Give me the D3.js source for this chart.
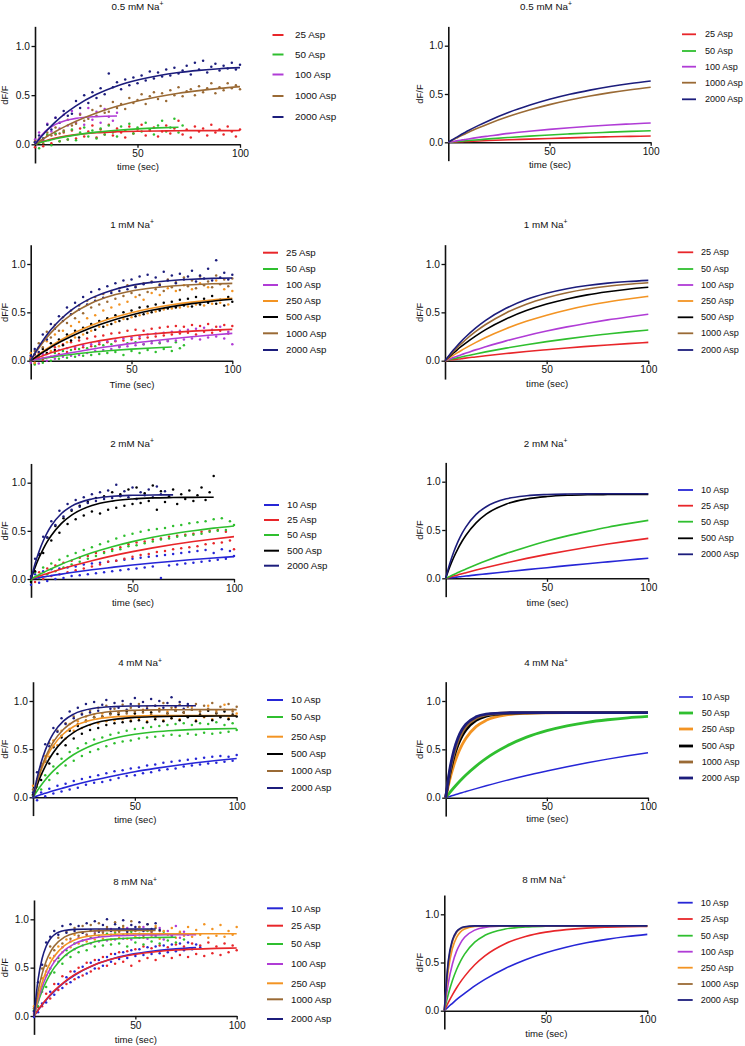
<!DOCTYPE html>
<html><head><meta charset="utf-8">
<script src="https://cdn.jsdelivr.net/npm/d3@7"></script>
<style>
body{margin:0;background:#fff}
svg{display:block}
text{font-family:"Liberation Sans",Arial,Helvetica,sans-serif;fill:#111}
</style>
</head><body>
<svg id="c" width="745" height="1046"></svg>
<script>
// ---------- shared time grids ----------
const scatT = [0,2,4,6,8,10,12,14,16,18,20,22,24,26,28,30,32,34,36,38,40,42,44,46,48,50,52,54,56,58,60,62,64,66,68,70,72,74,76,78,80,82,84,86,88,90,92,94,96,98,100];
const fitT = [0,2,4,6,8,10,15,20,30,40,50,60,70,80,90,100];
const yTicks = [0,0.5,1];
const xTicks = [50,100];

// ---------- 0.5 mM Na+ ----------
const legend05 = ["25 Asp","50 Asp","100 Asp","1000 Asp","2000 Asp"];
const dot_05_25 = [-.03,.05,-.02,.09,.01,.10,.03,.12,.05,.14,.06,.16,.08,.13,.19,.07,.15,.10,.20,.09,.16,.12,.07,.18,.11,.15,.20,.09,.14,.17,.08,.13,.19,.11,.16,.24,.10,.15,.07,.18,.13,.16,.09,.20,.12,.15,.10,.18,.13,.08,.15];
const dot_05_50 = [.02,-.04,.06,.10,-.01,.11,.03,.13,.05,.15,.04,.12,.17,.08,.14,.06,.16,.10,.19,.12,.08,.18,.14,.21,.11,.17,.13,.22,.15,.10,.19,.24,.13,.17,.26,.12,.19];
const dot_05_100 = [.05,.12,.04,.21,.13,.27,.16,.30,.19,.34,.22,.31,.20,.37,.25,.33,.22,.36,.28,.24,.32];
const dot_05_1000 = [.03,.06,.01,.12,.09,.17,.11,.14,.25,.19,.21,.30,.24,.26,.35,.29,.39,.32,.33,.43,.37,.41,.36,.47,.42,.45,.51,.41,.49,.53,.46,.52,.44,.55,.50,.58,.49,.54,.56,.50,.59,.53,.57,.62,.52,.58,.55,.62,.57,.60,.56];
const dot_05_2000 = [.02,.09,.06,.20,.15,.27,.22,.34,.29,.31,.44,.37,.50,.42,.53,.47,.57,.51,.72,.58,.63,.56,.66,.60,.68,.62,.70,.65,.74,.67,.73,.69,.76,.70,.78,.72,.75,.80,.71,.83,.76,.85,.73,.79,.82,.75,.80,.77,.83,.76,.81];
const fit_05_25 = [0,.016,.030,.042,.053,.063,.083,.098,.117,.127,.133,.136,.138,.139,.139,.140];
const fit_05_50 = [0,.013,.025,.036,.046,.056,.078,.096,.124,.143,.157,.167,.174];
const fit_05_100 = [0,.062,.110,.149,.179,.203,.242,.264,.282,.288];
const fit_05_1000 = [0,.028,.055,.082,.106,.130,.185,.235,.319,.386,.440,.484,.519,.546,.569,.587];
const fit_05_2000 = [0,.052,.100,.146,.188,.228,.316,.391,.509,.594,.654,.698,.730,.752,.769,.780];
const mod_05_25 = [0,.002,.004,.006,.008,.010,.014,.018,.026,.033,.040,.046,.052,.057,.061,.065];
const mod_05_50 = [0,.004,.008,.011,.015,.019,.027,.035,.050,.064,.076,.087,.097,.105,.113,.120];
const mod_05_100 = [0,.007,.015,.022,.028,.035,.051,.065,.092,.114,.134,.151,.166,.179,.190,.200];
const mod_05_1000 = [0,.022,.043,.064,.084,.104,.150,.193,.269,.334,.390,.438,.479,.514,.544,.570];
const mod_05_2000 = [0,.026,.051,.076,.099,.122,.175,.224,.311,.383,.445,.497,.540,.577,.608,.634];

// ---------- 1 mM Na+ ----------
const legend1 = ["25 Asp","50 Asp","100 Asp","250 Asp","500 Asp","1000 Asp","2000 Asp"];
const dot_1_25 = [.03,-.03,.08,.01,.11,.04,.14,.07,.17,.09,.19,.12,.21,.14,.23,.15,.25,.17,.26,.19,.28,.20,.29,.21,.31,.22,.32,.23,.31,.24,.33,.25,.34,.26,.35,.27,.36,.28,.35,.29,.37,.27,.36,.30,.38,.29,.35,.31,.37,.28,.36];
const dot_1_50 = [.01,-.04,.05,-.02,.07,.00,.08,.02,.10,.03,.11,.04,.12,.05,.13,.06,.15,.07,.16,.08,.17,.09,.15,.06,.18,.10,.19,.08,.17,.11,.20,.09,.18,.12,.21,.10,.19,.13,.16];
const dot_1_100 = [-.02,.06,-.03,.07,.00,.09,.02,.11,.04,.13,.05,.14,.06,.16,.08,.17,.10,.19,.11,.20,.12,.21,.14,.23,.15,.24,.16,.25,.17,.27,.18,.28,.19,.29,.20,.30,.21,.31,.22,.32,.23,.33,.22,.34,.24,.32,.25,.35,.23,.30,.17];
const dot_1_250 = [.08,-.02,.14,.03,.20,.10,.27,.15,.31,.19,.36,.24,.40,.27,.44,.31,.47,.35,.52,.37,.55,.40,.58,.43,.61,.45,.66,.47,.63,.49,.70,.51,.68,.53,.75,.54,.72,.55,.78,.56,.74,.58,.80,.57,.76,.59,.83,.60,.74,.58,.72];
const dot_1_500 = [.01,.07,.02,.12,.08,.18,.11,.22,.16,.27,.21,.31,.24,.34,.29,.38,.32,.41,.35,.44,.38,.47,.41,.50,.43,.52,.46,.55,.48,.56,.50,.58,.52,.60,.54,.61,.55,.63,.57,.64,.56,.66,.58,.64,.60,.67,.59,.63,.57,.66,.61];
const dot_1_1000 = [.02,.10,.18,.14,.30,.24,.37,.31,.45,.39,.52,.44,.57,.49,.62,.55,.66,.58,.69,.61,.72,.64,.75,.67,.78,.70,.77,.68,.80,.71,.82,.74,.79,.72,.84,.76,.81,.73,.86,.77,.83,.75,.87,.78,.82,.76,.88,.79,.84,.77,.85];
const dot_1_2000 = [.05,.12,.09,.27,.22,.38,.33,.46,.41,.55,.48,.60,.53,.66,.58,.71,.62,.74,.65,.77,.70,.80,.72,.83,.74,.84,.76,.87,.79,.89,.81,.86,.78,.92,.83,.88,.80,.90,.84,.87,.93,.82,.88,.85,.95,.83,1.04,.86,.91,.84,.89];
const fit_1_25 = [0,.018,.035,.051,.066,.081,.113,.142,.190,.226,.255,.276,.293,.306,.316,.324];
const fit_1_50 = [0,.008,.015,.022,.029,.035,.051,.064,.087,.105,.120,.132,.141];
const fit_1_100 = [0,.009,.018,.027,.036,.044,.064,.083,.119,.150,.179,.204,.227,.248,.266,.283];
const fit_1_250 = [0,.033,.065,.095,.124,.151,.214,.271,.364,.438,.496,.542,.578,.606,.628,.645];
const fit_1_500 = [0,.030,.059,.086,.113,.139,.198,.251,.341,.414,.473,.521,.559,.590,.615,.635];
const fit_1_1000 = [0,.068,.130,.188,.241,.288,.391,.474,.594,.671,.720,.752,.773,.786,.795,.800];
const fit_1_2000 = [0,.076,.145,.208,.266,.319,.431,.520,.647,.727,.779,.810,.830,.843,.851,.856];
const mod_1_25 = [0,.006,.011,.016,.021,.027,.039,.051,.074,.095,.114,.132,.148,.163,.177,.190];
const mod_1_50 = [0,.010,.020,.029,.038,.048,.070,.091,.130,.165,.197,.226,.253,.276,.298,.317];
const mod_1_100 = [0,.016,.032,.047,.062,.076,.112,.144,.205,.259,.307,.350,.388,.422,.452,.480];
const mod_1_250 = [0,.028,.055,.081,.106,.130,.187,.240,.331,.407,.471,.525,.570,.607,.638,.665];
const mod_1_500 = [0,.040,.077,.113,.147,.179,.254,.321,.431,.518,.586,.639,.681,.713,.739,.759];
const mod_1_1000 = [0,.048,.092,.135,.175,.214,.300,.374,.494,.585,.652,.703,.741,.770,.791,.807];
const mod_1_2000 = [0,.055,.107,.155,.200,.243,.337,.417,.542,.633,.697,.744,.778,.802,.819,.831];

// ---------- 2 mM Na+ ----------
const legend2 = ["10 Asp","25 Asp","50 Asp","500 Asp","2000 Asp"];
const dot_2_10 = [-.06,.05,-.04,.08,-.02,.10,.00,.11,.01,.12,.03,.13,.04,.15,.05,.16,.06,.17,.07,.18,.08,.19,.09,.20,.10,.21,.11,.22,.12,.23,.13,.24,.01,.25,.14,.26,.15,.27,.16,.28,.17,.29,.18,.30,.19,.27,.20,.31,.21,.29,.24];
const dot_2_25 = [.02,-.03,.07,.00,.11,.03,.14,.05,.17,.07,.19,.09,.22,.11,.24,.13,.27,.15,.28,.18,.31,.19,.33,.21,.36,.23,.38,.25,.39,.26,.41,.28,.42,.29,.44,.31,.45,.32,.46,.33,.47,.34,.49,.36,.50,.37,.51,.38,.49,.40,.31];
const dot_2_50 = [-.02,.07,.01,.12,.05,.16,.08,.20,.12,.24,.15,.27,.18,.30,.21,.33,.24,.36,.27,.39,.29,.42,.31,.45,.34,.47,.35,.49,.37,.51,.39,.52,.41,.53,.42,.55,.44,.56,.45,.58,.46,.59,.47,.60,.49,.62,.50,.63,.51,.60,.56];
const dot_2_500 = [-.03,.08,.26,.27,.43,.40,.55,.48,.63,.57,.71,.62,.76,.66,.80,.70,.84,.68,.86,.72,.90,.74,.88,.76,.93,.78,.95,.79,.89,.81,.97,.72,.91,.80,.86,.93,.78,.88,.83,.92,.81,.87,.95,.82,.90,1.07];
const dot_2_2000 = [.03,.21,.25,.44,.43,.60,.56,.71,.65,.78,.72,.82,.75,.85,.79,.88,.81,.90,.83,.92,.84,.98,.86,.91,.85,.95,.83,.90,.87,.93,.85,.96,.88,.91];
const fit_2_10 = [0,.007,.015,.022,.028,.035,.051,.067,.096,.121,.145,.166,.185,.202,.218,.232];
const fit_2_25 = [0,.015,.030,.044,.058,.071,.104,.134,.190,.240,.284,.323,.358,.389,.416,.440];
const fit_2_50 = [0,.023,.045,.066,.087,.107,.154,.196,.272,.335,.388,.433,.470,.501,.528,.550];
const fit_2_500 = [0,.120,.223,.311,.388,.452,.578,.664,.763,.809,.831,.842,.846,.848,.849];
const fit_2_2000 = [0,.158,.289,.395,.482,.553,.680,.757,.831,.859,.869,.873,.874];
const mod_2_10 = [0,.005,.009,.014,.019,.023,.035,.046,.068,.090,.110,.131,.151,.170,.189,.208];
const mod_2_25 = [0,.012,.024,.035,.047,.058,.085,.111,.160,.206,.248,.286,.322,.355,.385,.413];
const mod_2_50 = [0,.020,.040,.059,.078,.096,.140,.182,.258,.325,.386,.439,.486,.529,.566,.600];
const mod_2_500 = [0,.117,.218,.305,.381,.446,.574,.664,.770,.821,.846,.859,.865,.867,.868,.869];
const mod_2_2000 = [0,.150,.274,.377,.463,.533,.662,.741,.823,.855,.867,.872,.874,.875,.875,.875];

// ---------- 4 mM Na+ ----------
const legend4 = ["10 Asp","50 Asp","250 Asp","500 Asp","1000 Asp","2000 Asp"];
const dot_4_10 = [.00,-.03,.05,.01,.09,.04,.12,.06,.14,.08,.17,.10,.19,.13,.21,.15,.23,.16,.25,.18,.27,.20,.28,.22,.30,.23,.31,.25,.33,.26,.34,.28,.36,.29,.37,.30,.38,.32,.39,.33,.40,.34,.41,.35,.42,.36,.43,.37,.42,.38,.44];
const dot_4_50 = [.02,.11,.08,.23,.18,.32,.25,.40,.33,.47,.38,.51,.43,.56,.47,.60,.50,.62,.53,.65,.56,.67,.58,.69,.59,.71,.61,.72,.62,.73,.63,.74,.64,.75,.65,.76,.64,.77,.66,.75,.65,.77,.67,.76,.66,.78,.67,.75,.68,.77,.70];
const dot_4_250 = [.12,.19,.24,.43,.42,.59,.54,.69,.61,.76,.69,.79,.72,.84,.75,.86,.77,.87,.79,.89,.80,.88,.81,.90,.80,.87,.82,.91,.79,.88,.83,.92,.80,.89,.82,.93,.81,.88,.84,.94,.80,.89,.83,.95,.81,.90,.84,.96,.82,.91,.87];
const dot_4_500 = [.03,.17,.18,.38,.35,.52,.45,.62,.54,.69,.61,.74,.66,.79,.70,.83,.72,.84,.75,.87,.77,.86,.78,.89,.79,.87,.80,.90,.78,.88,.81,.91,.79,.87,.82,.90,.80,.88,.83,.91,.79,.86,.84,.90,.80,.87,.83,.89,.81,.86,.84];
const dot_4_1000 = [.08,.14,.35,.37,.56,.53,.69,.64,.77,.71,.84,.76,.87,.80,.90,.83,.93,.84,.95,.86,.92,.88,.96,.87,.93,.89,.97,.88,.94,.86,.95,.89,.98,.87,.93,.90,.96,.88,.94,.91,.97,.89,.95,.92,.98,.88,.94,.91,.97,.89,.94];
const dot_4_2000 = [.05,.26,.32,.55,.53,.72,.68,.82,.76,.89,.82,.93,.86,.97,.88,.99,.90,.96,1.01,.92,.98,.93,1.00,.91,.97,1.03,.94,.99,.92,1.02,.95,1.00,.93,.98,1.04,.94,.99,.92,.97];
const fit_4_10 = [0,.014,.028,.042,.055,.068,.098,.127,.179,.224,.265,.300,.331,.358,.382,.403];
const fit_4_50 = [0,.066,.126,.180,.230,.274,.369,.444,.549,.614,.654,.680,.695,.705,.711,.714];
const fit_4_250 = [0,.154,.281,.383,.468,.537,.660,.735,.808,.835,.844,.848,.849,.850,.850,.850];
const fit_4_500 = [0,.125,.232,.322,.400,.466,.591,.674,.768,.810,.830,.838,.842,.843,.844,.844];
const fit_4_1000 = [0,.165,.300,.410,.501,.575,.707,.787,.865,.894,.904,.908,.909,.910,.910,.910];
const fit_4_2000 = [0,.202,.362,.487,.586,.664,.793,.864,.924,.942,.948,.950,.950,.950];
const mod_4_10 = [0,.013,.026,.039,.052,.064,.094,.123,.179,.230,.276,.320,.361,.399,.434,.466];
const mod_4_50 = [0,.053,.103,.150,.194,.235,.327,.407,.532,.626,.693,.743,.780,.806,.826,.840];
const mod_4_250 = [0,.187,.335,.451,.543,.615,.735,.800,.856,.873,.878,.880,.880,.880,.880,.880];
const mod_4_500 = [0,.241,.416,.543,.635,.702,.800,.844,.873,.878,.880,.880,.880,.880,.880,.880];
const mod_4_1000 = [0,.266,.451,.581,.671,.735,.821,.856,.876,.880,.880,.880,.880,.880,.880,.880];
const mod_4_2000 = [0,.290,.485,.615,.702,.761,.836,.864,.878,.880,.880,.880,.880,.880,.880,.880];

// ---------- 8 mM Na+ ----------
const legend8 = ["10 Asp","25 Asp","50 Asp","100 Asp","250 Asp","1000 Asp","2000 Asp"];
const dot_8_10 = [-.01,.04,.13,.14,.25,.22,.33,.29,.40,.35,.46,.40,.51,.44,.55,.49,.58,.52,.61,.56,.64,.59,.66,.60,.68,.62,.69,.63,.71,.64,.72,.65,.73,.66,.74,.67,.75,.68,.76,.69,.74,.71];
const dot_8_25 = [.02,.09,.10,.23,.18,.33,.27,.41,.33,.46,.38,.50,.42,.55,.46,.58,.49,.61,.52,.64,.54,.66,.56,.67,.52,.69,.57,.72,.60,.70,.58,.73,.62,.71,.60,.74,.63,.72,.61,.75,.64,.73,.62,.76,.65,.72,.63,.75,.66,.73,.68];
const dot_8_50 = [.06,.10,.31,.30,.49,.45,.60,.54,.68,.61,.75,.66,.78,.68,.81,.72,.83,.73,.85,.74,.86,.75,.84,.72,.87,.76,.85,.74,.88,.77,.84,.75,.87,.78,.83,.76,.86,.79];
const dot_8_100 = [.03,.21,.25,.46,.44,.62,.56,.71,.63,.77,.69,.81,.73,.84,.75,.87,.77,.88,.78,.90,.79,.88,.80,.91,.79,.89,.81,.92,.80,.87,.82,.91,.79,.88,.83,.93,.81,.87,.84];
const dot_8_250 = [.10,.16,.39,.42,.60,.57,.72,.66,.79,.71,.84,.75,.86,.77,.88,.79,.89,.80,.90,.79,.88,.81,.91,.80,.89,.82,.92,.81,.89,.83,.93,.80,.88,.84,.91,.81,.87,.83,.92,.82,.89,.84,.95,.81,.90,.83,.94,.82,.88,.84,.92];
const dot_8_1000 = [.08,.22,.49,.52,.72,.68,.81,.75,.87,.80,.91,.83,.93,.84,.94,.85,.96,.86,.92,.84,.97,.87,.93,.85,.98,.88,.92,.83,.95,.87,.91,.88];
const dot_8_2000 = [.05,.35,.53,.76,.82,.88,.84,.93,.86,.95,.88,.93,.86,.96,.89,.98,.87,.94,1.00,.88,.95,.91,.99,.87,.94,.92,.97,.88,.95,.90,.96,.89];
const fit_8_10 = [0,.060,.115,.166,.212,.255,.347,.421,.529,.599,.645,.675,.694,.707];
const fit_8_25 = [0,.062,.119,.171,.219,.262,.354,.427,.531,.597,.639,.665,.682,.692,.699,.703];
const fit_8_50 = [0,.141,.258,.354,.434,.500,.619,.693,.768,.797,.808,.812,.814];
const fit_8_100 = [0,.165,.299,.406,.491,.560,.679,.747,.809,.830,.837,.839,.840,.840];
const fit_8_250 = [0,.195,.344,.461,.550,.618,.729,.787,.833,.845,.850,.850,.850,.850,.850,.850];
const fit_8_1000 = [0,.255,.436,.566,.658,.723,.816,.856,.880,.885,.885,.885];
const fit_8_2000 = [0,.375,.594,.722,.797,.840,.885,.896,.900,.900,.900,.900];
const mod_8_10 = [0,.040,.077,.114,.148,.180,.257,.325,.438,.529,.601,.658,.704,.740,.769,.792];
const mod_8_25 = [0,.087,.165,.236,.299,.356,.477,.569,.695,.770,.815,.841,.857,.866,.872,.875];
const mod_8_50 = [0,.173,.313,.425,.515,.587,.711,.782,.847,.869,.876,.879,.880,.880,.880,.880];
const mod_8_100 = [0,.290,.485,.615,.702,.761,.836,.864,.878,.880,.880,.880,.880,.880,.880,.880];
const mod_8_250 = [0,.425,.645,.759,.818,.847,.874,.880,.880,.880,.880,.880,.880,.880,.880,.880];
const mod_8_1000 = [0,.500,.716,.810,.849,.867,.878,.880,.880,.880,.880,.880,.880,.880,.880,.880];
const mod_8_2000 = [0,.522,.735,.821,.856,.870,.880,.880,.880,.880,.880,.880,.880,.880,.880,.880];

// ---------- styles ----------
const aspColor = {"10 Asp":"#2626d6","25 Asp":"#e8262a","50 Asp":"#2fbf2f","100 Asp":"#b03cd6",
  "250 Asp":"#f39423","500 Asp":"#000000","1000 Asp":"#9a6a35","2000 Asp":"#1c1d7c"};

// ---------- panel tables (built from the arrays above) ----------
const panelsData = [
  {title:"0.5 mM Na", names:legend05, dots:[dot_05_25,dot_05_50,dot_05_100,dot_05_1000,dot_05_2000],
   fits:[fit_05_25,fit_05_50,fit_05_100,fit_05_1000,fit_05_2000],
   mods:[mod_05_25,mod_05_50,mod_05_100,mod_05_1000,mod_05_2000], xlabL:"time (sec)"},
  {title:"1 mM Na", names:legend1, dots:[dot_1_25,dot_1_50,dot_1_100,dot_1_250,dot_1_500,dot_1_1000,dot_1_2000],
   fits:[fit_1_25,fit_1_50,fit_1_100,fit_1_250,fit_1_500,fit_1_1000,fit_1_2000],
   mods:[mod_1_25,mod_1_50,mod_1_100,mod_1_250,mod_1_500,mod_1_1000,mod_1_2000], xlabL:"Time (sec)"},
  {title:"2 mM Na", names:legend2, dots:[dot_2_10,dot_2_25,dot_2_50,dot_2_500,dot_2_2000],
   fits:[fit_2_10,fit_2_25,fit_2_50,fit_2_500,fit_2_2000],
   mods:[mod_2_10,mod_2_25,mod_2_50,mod_2_500,mod_2_2000], xlabL:"time (sec)"},
  {title:"4 mM Na", names:legend4, dots:[dot_4_10,dot_4_50,dot_4_250,dot_4_500,dot_4_1000,dot_4_2000],
   fits:[fit_4_10,fit_4_50,fit_4_250,fit_4_500,fit_4_1000,fit_4_2000],
   mods:[mod_4_10,mod_4_50,mod_4_250,mod_4_500,mod_4_1000,mod_4_2000], xlabL:"time (sec)"},
  {title:"8 mM Na", names:legend8, dots:[dot_8_10,dot_8_25,dot_8_50,dot_8_100,dot_8_250,dot_8_1000,dot_8_2000],
   fits:[fit_8_10,fit_8_25,fit_8_50,fit_8_100,fit_8_250,fit_8_1000,fit_8_2000],
   mods:[mod_8_10,mod_8_25,mod_8_50,mod_8_100,mod_8_250,mod_8_1000,mod_8_2000], xlabL:"time (sec)"}
];

// layout (pixel geometry only)
const layoutL = [
  {x0:35,x1:240,y0:144.3,y1:46,tx:137.5,ty:9.5,lx:272.5,lw:11,ltx:295,rows:[35,54.5,74.5,96,117],xly:170,fs:9.9},
  {x0:30.7,x1:232.3,y0:360.7,y1:264,tx:132,ty:227.5,lx:263,lw:15,ltx:286,rows:[252.7,269,285,301,317,333.3,350],xly:387.5,fs:9.7},
  {x0:31,x1:234,y0:579,y1:482.7,tx:132,ty:446.5,lx:264,lw:15,ltx:287,rows:[505,520,535,550.7,565.7],xly:605.5,fs:9.7},
  {x0:33,x1:236.7,y0:797.3,y1:701,tx:140,ty:666,lx:267,lw:16,ltx:291,rows:[700,717,736.7,754,771,788],xly:822.5,fs:9.7},
  {x0:34,x1:236.7,y0:1016,y1:919.3,tx:135,ty:885,lx:267,lw:16,ltx:291,rows:[908.3,925.7,944,964,983.3,999.3,1019],xly:1042.5,fs:9.7}
];
const layoutR = [
  {x0:448.3,x1:650.7,y0:142.3,y1:45.7,tx:546,ty:9.5,lx:682,lw:14,ltx:705,rows:[34.3,51,66.7,82.7,99.3],xly:167.5,fs:9.1},
  {x0:445,x1:648.3,y0:360.7,y1:264,tx:545.7,ty:227.5,lx:677.7,lw:15.5,ltx:701,rows:[252.3,269,285,301,317.3,333.3,350],xly:386.8,fs:9.1},
  {x0:445.7,x1:648.3,y0:578.3,y1:481.7,tx:545.7,ty:446.8,lx:678,lw:15,ltx:701,rows:[490,505.7,521.7,538.3,554.3],xly:605.8,fs:9.1},
  {x0:445.7,x1:648,y0:797.7,y1:701,tx:546,ty:666,lx:679,lw:14,ltx:701.7,rows:[697,713,729,746,762,778],xly:822,fs:9.1,thick:true},
  {x0:444.3,x1:647.3,y0:1010.7,y1:914.3,tx:544,ty:883,lx:677.7,lw:15,ltx:700.7,rows:[902.7,919,935.7,951.7,967.7,984,1000],xly:1036.5,fs:9.1}
];

const svg = d3.select("#c");

function frame(L, title, xlab, ylx) {
  const x = d3.scaleLinear().domain([0,100]).range([L.x0,L.x1]);
  const y0s = d3.scaleLinear().domain([0,1]).range([L.y0,L.y1]);
  const y = d3.scaleLinear().domain([-0.19,1.2]).range([y0s(-0.19), y0s(1.2)]);
  const g = svg.append("g");
  const ya = g.append("g").attr("transform",`translate(${L.x0},0)`)
    .call(d3.axisLeft(y).tickValues(yTicks).tickFormat(d3.format(".1f")).tickSize(3.5).tickSizeOuter(0).tickPadding(1.5));
  const xa = g.append("g").attr("transform",`translate(0,${L.y0})`)
    .call(d3.axisBottom(x).tickValues(xTicks).tickSize(3.5).tickSizeOuter(0).tickPadding(2));
  [ya,xa].forEach(a=>{
    a.select(".domain").attr("stroke","#111").attr("stroke-width",1.6);
    a.selectAll(".tick line").attr("stroke","#111").attr("stroke-width",1.3);
    a.selectAll(".tick text").attr("font-size",10.2).attr("fill","#111")
      .attr("font-family","Liberation Sans, Arial, sans-serif");
  });
  const t = g.append("text").attr("x",L.tx).attr("y",L.ty).attr("text-anchor","middle").attr("font-size",9.8);
  t.append("tspan").text(title);
  t.append("tspan").attr("dy",-3.5).attr("font-size",6.8).text("+");
  g.append("text").attr("x",(L.x0+L.x1)/2 + 0.5).attr("y",L.xly).attr("text-anchor","middle").attr("font-size",9.6).text(xlab);
  g.append("text").attr("transform",`translate(${ylx},${y0s(0.5)}) rotate(-90)`).attr("dy","0.35em")
    .attr("text-anchor","middle").attr("font-size",9.4).text("dF/F");
  return {g,x,y:y0s};
}

function legend(g, L, names, widths) {
  names.forEach((n,i)=>{
    g.append("line").attr("x1",L.lx).attr("x2",L.lx+L.lw).attr("y1",L.rows[i]).attr("y2",L.rows[i])
      .attr("stroke",aspColor[n]).attr("stroke-width",widths(n));
    g.append("text").attr("x",L.ltx).attr("y",L.rows[i]).attr("dy","0.35em").attr("font-size",L.fs).text(n);
  });
}

panelsData.forEach((P,pi)=>{
  // left: data dots + fitted curves
  const L = layoutL[pi];
  const f = frame(L, P.title, P.xlabL, 5);
  const line = d3.line().x(d=>f.x(d[0])).y(d=>f.y(d[1])).curve(d3.curveMonotoneX);
  P.names.forEach((n,si)=>{
    f.g.append("g").selectAll("circle").data(P.dots[si].map((v,i)=>[scatT[i],v])).join("circle")
      .attr("cx",d=>f.x(d[0])).attr("cy",d=>f.y(d[1])).attr("r",1.25).attr("fill",aspColor[n]);
  });
  P.names.forEach((n,si)=>{
    f.g.append("path").attr("d",line(P.fits[si].map((v,i)=>[fitT[i],v])))
      .attr("fill","none").attr("stroke",aspColor[n]).attr("stroke-width",1.6);
  });
  legend(f.g, L, P.names, ()=>2);

  // right: model curves
  const R = layoutR[pi];
  const fr = frame(R, P.title, "time (sec)", 419.5);
  const lineR = d3.line().x(d=>fr.x(d[0])).y(d=>fr.y(d[1])).curve(d3.curveMonotoneX);
  const w = n => R.thick ? (n==="10 Asp" ? 1.5 : 2.8) : 1.6;
  P.names.forEach((n,si)=>{
    fr.g.append("path").attr("d",lineR(P.mods[si].map((v,i)=>[fitT[i],v])))
      .attr("fill","none").attr("stroke",aspColor[n]).attr("stroke-width",w(n));
  });
  legend(fr.g, R, P.names, n => R.thick ? (n==="10 Asp" ? 1.6 : 2.8) : 1.8);
});
</script>
</body></html>
